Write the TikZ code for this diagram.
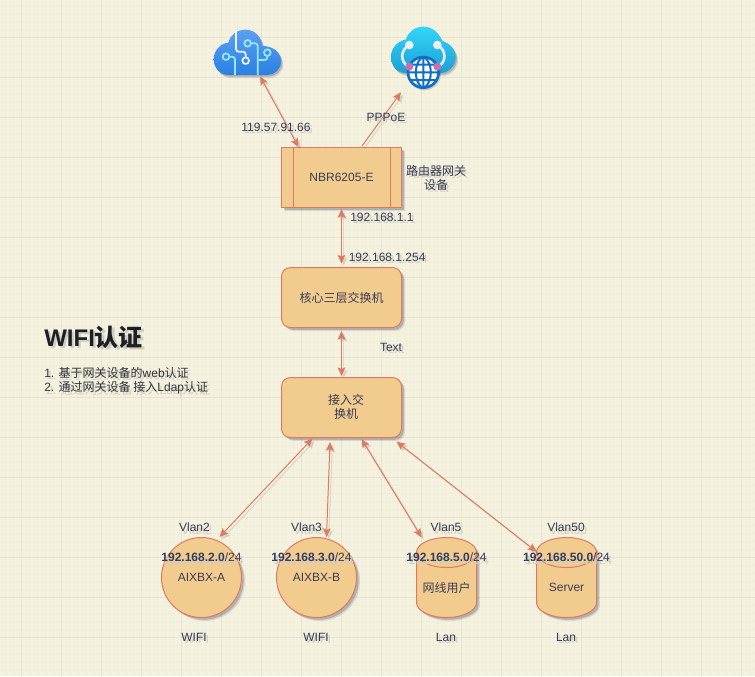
\documentclass[tikz,border=0pt]{standalone}
\usepackage{fontspec}
\setmainfont{Liberation Sans}
\newfontfamily\cjk{Noto Sans CJK SC}
\usetikzlibrary{arrows.meta,calc,shadows}
\definecolor{paper}{HTML}{F4F1DE}
\definecolor{gridminor}{HTML}{F0EDDB}
\definecolor{gridmajor}{HTML}{E5E3D1}
\definecolor{boxfill}{HTML}{F2CC8F}
\definecolor{boxline}{HTML}{E07A5F}
\definecolor{ink}{HTML}{393C56}
\definecolor{shadowc}{HTML}{3A3D58}
\definecolor{shB}{HTML}{D0CEC2}
\definecolor{cloudAtop}{RGB}{92,160,242}
\definecolor{cloudAbot}{RGB}{42,128,226}
\definecolor{traceA}{RGB}{150,232,255}
\definecolor{traceB}{RGB}{232,244,255}
\definecolor{cloudBtop}{RGB}{50,214,250}
\definecolor{cloudBbot}{RGB}{28,160,212}
\definecolor{stemc}{RGB}{226,232,236}
\definecolor{knobc}{RGB}{236,238,240}
\definecolor{globec}{RGB}{16,110,200}
\definecolor{pinkc}{RGB}{198,112,184}
\definecolor{titlec}{RGB}{30,30,36}
\definecolor{stepsc}{RGB}{50,50,56}
\newcommand\sh[1]{\leavevmode\rlap{\smash{\kern1.7pt\raisebox{-1.7pt}{\color{shB}#1}}}#1}
\newcommand\zh[1]{{\cjk #1}}
\tikzset{
  >={Stealth[length=6.5pt,width=5.8pt,inset=1.2pt]},
  softshadow/.style={
    general shadow={shadow xshift=2.6pt,shadow yshift=-2.6pt,fill=shadowc,opacity=.14},
    general shadow={shadow xshift=1.7pt,shadow yshift=-1.7pt,fill=shadowc,opacity=.25}},
  shapebox/.style={draw=boxline,fill=boxfill,line width=.75pt,text=ink,inner sep=0pt,align=center,
    font=\fontsize{9}{10.5}\selectfont,softshadow},
  procbox/.style={shapebox,minimum width=90pt,minimum height=45pt},
  roundbox/.style={procbox,rounded corners=6.75pt},
  discbox/.style={shapebox,circle,minimum size=60pt},
  anchorbox/.style={inner sep=0pt,minimum width=45pt,minimum height=60pt},
  lbl/.style={inner sep=0pt,text=ink,align=center,font=\fontsize{9}{10.5}\selectfont},
  link/.style={draw=boxline,line width=.75pt},
  linkshadow/.style={draw=shadowc,fill=shadowc,line width=.9pt,opacity=.11,
    transform canvas={xshift=1.7pt,yshift=-1.7pt}},
  cylfill/.style={draw=boxline,fill=boxfill,line width=.75pt},
  shapeshade/.style={fill=shadowc,draw=none},
}
\newcommand\linkboth[2]{\draw[linkshadow,<->] #1 -- #2;\draw[link,<->] #1 -- #2;}
\newcommand\linkone[2]{\draw[linkshadow,->] #1 -- #2;\draw[link,->] #1 -- #2;}
\def\cylpath{(-30,-25) .. controls (-30,-33.3) and (-16.6,-40) .. (0,-40) .. controls (16.6,-40) and (30,-33.3) .. (30,-25) -- (30,25) .. controls (30,33.3) and (16.6,40) .. (0,40) .. controls (-16.6,40) and (-30,33.3) .. (-30,25) -- cycle}
\def\cyltop{(-30,-25) .. controls (-30,-16.7) and (-16.6,-10) .. (0,-10) .. controls (16.6,-10) and (30,-16.7) .. (30,-25)}
\newcommand\drawcyl[1]{%
  \begin{scope}[shift={(#1,577.5)}]
    \begin{scope}[shift={(3.4,3.4)}]\fill[shapeshade,opacity=.14] \cylpath;\end{scope}
    \begin{scope}[shift={(2.2,2.2)}]\fill[shapeshade,opacity=.25] \cylpath;\end{scope}
    \draw[cylfill] \cylpath;
    \draw[boxline,line width=.75pt] \cyltop;
  \end{scope}}
\def\cloudApath{(70,165) .. controls (45,165) and (26,143) .. (26,118) .. controls (26,93) and (45,70) .. (70,68) .. controls (76,45) and (95,29) .. (122,29) .. controls (150,29) and (168,50) .. (172,78) .. controls (202,78) and (228,95) .. (228,125) .. controls (228,148) and (208,165) .. (188,165) -- cycle}
\def\cloudBpath{(78,159) .. controls (50,159) and (33,138) .. (33,110) .. controls (33,85) and (50,65) .. (78,58) .. controls (85,35) and (105,20) .. (130,20) .. controls (155,20) and (175,35) .. (185,62) .. controls (210,70) and (227,88) .. (227,112) .. controls (227,138) and (205,159) .. (180,159) -- cycle}
\begin{document}
\begin{tikzpicture}[x=.75pt,y=-.75pt]
\useasboundingbox (0,0) rectangle (755,676);
\fill[paper] (0,0) rectangle (755,676);
\foreach \p in {5.5,13.5,...,755}{\draw[gridminor,line width=.75pt] (\p,0) -- (\p,676);}
\foreach \p in {5.5,13.5,...,676}{\draw[gridminor,line width=.75pt] (0,\p) -- (755,\p);}
\foreach \p in {21.5,61.5,...,755}{\draw[gridmajor,line width=.75pt] (\p,0) -- (\p,676);}
\foreach \p in {37.5,77.5,...,676}{\draw[gridmajor,line width=.75pt] (0,\p) -- (755,\p);}

% cloud icons
\begin{scope}[shift={(205,20)},scale=1/3]
  \begin{scope}[shift={(7,9)}]\fill[shapeshade,opacity=.14] \cloudApath;\end{scope}
  \begin{scope}[shift={(4,5)}]\fill[shapeshade,opacity=.25] \cloudApath;\end{scope}
  \shade[top color=cloudAtop,bottom color=cloudAbot] \cloudApath;
  \begin{scope}[line width=1.3pt,draw=traceA,rounded corners=2pt]
    \draw (63,110) circle (10);
    \draw (73,110) -- (90,110) -- (90,165);
    \draw (128,70) circle (10);
    \draw (138,70) -- (158,70) -- (158,165);
    \draw (187,98) circle (10);
    \draw (187,108) -- (187,120) -- (160,120);
  \end{scope}
  \begin{scope}[line width=1.3pt,draw=traceB,rounded corners=2pt]
    \draw (122,122) circle (10);
    \draw (93,32) -- (93,95) -- (122,95) -- (122,112);
  \end{scope}
\end{scope}
\begin{scope}[shift={(380,20)},scale=1/3]
  \begin{scope}[shift={(7,9)}]\fill[shapeshade,opacity=.14] \cloudBpath;\end{scope}
  \begin{scope}[shift={(4,5)}]\fill[shapeshade,opacity=.25] \cloudBpath;\end{scope}
  \shade[top color=cloudBtop,bottom color=cloudBbot] \cloudBpath;
  \draw[line width=2pt,draw=stemc] (88,75) .. controls (60,90) and (60,125) .. (85,140);
  \draw[line width=2pt,draw=stemc] (172,75) .. controls (200,90) and (200,125) .. (175,140);
  \fill[knobc] (88,75) circle (13) (172,75) circle (13);
  \begin{scope}[shift={(3,4)}]\fill[shapeshade,opacity=.2] (130,157) circle (50);\end{scope}
  \draw[fill=white,draw=globec,line width=2pt] (130,157) circle (46);
  \begin{scope}
    \clip (130,157) circle (46);
    \draw[draw=globec,line width=1.5pt]
      (130,110) -- (130,205) (82,157) -- (178,157) (86,134) -- (174,134) (86,180) -- (174,180)
      (130,110) .. controls (100,125) and (100,189) .. (130,205)
      (130,110) .. controls (160,125) and (160,189) .. (130,205);
  \end{scope}
  \fill[pinkc] (88,140) circle (12) (172,140) circle (12);
\end{scope}
\node[inner sep=0pt,minimum width=51pt,minimum height=37.5pt] (cloudA) at (247,51) {};
\node[inner sep=0pt,minimum width=49pt,minimum height=46.5pt] (cloudB) at (423.5,58) {};

% boxes
\node[procbox] (nbr) at (341.5,177.5) {NBR6205-E};
\draw[boxline,line width=.75pt] ($(nbr.north west)+(12,0)$) -- ($(nbr.south west)+(12,0)$);
\draw[boxline,line width=.75pt] ($(nbr.north east)+(-12,0)$) -- ($(nbr.south east)+(-12,0)$);
\node[roundbox] (core) at (341.5,297.5) {\zh{核心三层交换机}};
\node[roundbox] (access) at (341.5,407.5) {};
\node[lbl] (accesstext) at (346,407) {\zh{接入交}\\\zh{换机}};
\node[discbox] (apA) at (201.5,577.5) {AIXBX-A};
\node[discbox] (apB) at (316.5,577.5) {AIXBX-B};
\drawcyl{446.5}
\drawcyl{566.5}
\node[anchorbox] (cylC) at (446.5,577.5) {};
\node[anchorbox] (cylD) at (566.5,577.5) {};
\node[lbl] (cylCtext) at (446.5,587.5) {\zh{网线用户}};
\node[lbl] (cylDtext) at (566.5,587.5) {Server};

% connectors
\linkboth{($(cloudA.south)+(13,0)$)}{($(nbr.north)+(-43,0)$)}
\linkone{($(nbr.north)+(20.5,-1)$)}{($(cloudB.south)+(-22.5,3)$)}
\linkboth{($(nbr.south)+(0,1)$)}{($(core.north)+(0,-3.5)$)}
\linkboth{($(core.south)+(0,3)$)}{($(access.north)+(0,-1)$)}
\linkboth{($(access.south)+(-29,.5)$)}{($(apA.north)+(18,0)$)}
\linkboth{($(access.south)+(-11.5,4)$)}{($(apB.north)+(10,0)$)}
\linkboth{($(access.south)+(20,1)$)}{($(cylC.north)+(-25,0)$)}
\linkboth{($(access.south)+(55,3.5)$)}{($(cylD.north)+(-30,14.5)$)}

% labels
\node[lbl] (wan) at (276,127.5) {\sh{119.57.91.66}};
\node[lbl] (ppp) at (386,117.5) {\sh{PPPoE}};
\node[lbl] (gw) at (436,177.5) {\sh{\zh{路由器网关}}\\\sh{\zh{设备}}};
\node[lbl,anchor=west] (lanA) at (350,217.5) {\sh{192.168.1.1}};
\node[lbl,anchor=west] (lanB) at (348.5,257.5) {\sh{192.168.1.254}};
\node[lbl] (txt) at (391,347.5) {\sh{Text}};
\node[lbl] (vA) at (194.5,527.5) {\sh{Vlan2}};
\node[lbl] (vB) at (306.5,527.5) {\sh{Vlan3}};
\node[lbl] (vC) at (446,527.5) {\sh{Vlan5}};
\node[lbl] (vD) at (566,527.5) {\sh{Vlan50}};
\node[lbl] (ipA) at (201.5,557.5) {\sh{\textbf{192.168.2.0}/24}};
\node[lbl] (ipB) at (311.5,557.5) {\sh{\textbf{192.168.3.0}/24}};
\node[lbl] (ipC) at (446.5,557.5) {\sh{\textbf{192.168.5.0}/24}};
\node[lbl] (ipD) at (566.5,557.5) {\sh{\textbf{192.168.50.0}/24}};
\node[lbl] (wA) at (194,637.5) {\sh{WIFI}};
\node[lbl] (wB) at (316,637.5) {\sh{WIFI}};
\node[lbl] (wC) at (446,637.5) {\sh{Lan}};
\node[lbl] (wD) at (566,637.5) {\sh{Lan}};
\node[lbl,anchor=west,text=titlec,font=\fontsize{18}{21}\selectfont\bfseries] (title) at (44,337) {\sh{WIFI\zh{认证}}};
\node[lbl,anchor=north west,align=left,text=stepsc,font=\fontsize{9}{10.9}\selectfont] (steps) at (44,367) {\sh{1. \zh{基于网关设备的}web\zh{认证}}\\\sh{2. \zh{通过网关设备 接入}Ldap\zh{认证}}};
\end{tikzpicture}
\end{document}
